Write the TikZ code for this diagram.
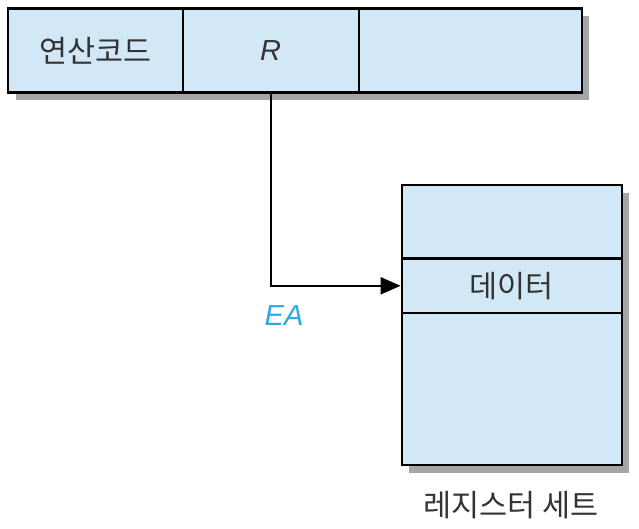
\documentclass[tikz,border=0pt]{standalone}
\usepackage{fontspec}
\setmainfont{Noto Sans CJK KR}
\newfontfamily\latinsans{Liberation Sans}
\usepackage{tikz}
\usetikzlibrary{positioning,shadows,arrows.meta}
\definecolor{cellblue}{HTML}{D3E8F7}
\definecolor{eacyan}{HTML}{29ABE2}
\def\shadowsep{7.5pt}

\begin{document}
\begin{tikzpicture}[x=1pt, y=-1pt, line width=2.4pt, font=\fontsize{30.5}{36}\selectfont, text=black!80]
        \tikzstyle{cell}=[rectangle, draw=black, fill=cellblue, inner sep=0pt,
            drop shadow={shadow xshift=\shadowsep, shadow yshift=-\shadowsep, fill=black!35, opacity=1}];
        \tikzstyle{field}=[cell, minimum height=84pt];
        \tikzstyle{reg}=[cell, minimum width=220pt];
        \tikzstyle{latin}=[font=\latinsans\itshape\fontsize{29}{32}\selectfont];
        \useasboundingbox (0,0) rectangle (639,529);

        % instruction fields
        \node[field, minimum width=174.5pt] (opcode) at (95.5, 50.5) {연산코드};
        \node[field, minimum width=176pt, latin] (R) at (270.7, 50.5) {R};
        \node[field, minimum width=223pt] (addr) at (470.2, 50.5) {};
        % register set
        \node[reg, minimum height=73.5pt] (top) at (511.8, 221.8) {};
        \node[reg, minimum height=55pt] (data) at (511.8, 285.8) {데이터};
        \node[reg, minimum height=152pt] (bottom) at (511.8, 389) {};
        \node (setname) at (511, 505) {레지스터 세트};
        % R points to the register
        \draw[line width=2pt, -{Triangle[length=20pt, width=17pt]}] (R.south) |- (data.west);
        \node[latin, text=eacyan] (ea) at (284, 316) {EA};
\end{tikzpicture}
\end{document}
